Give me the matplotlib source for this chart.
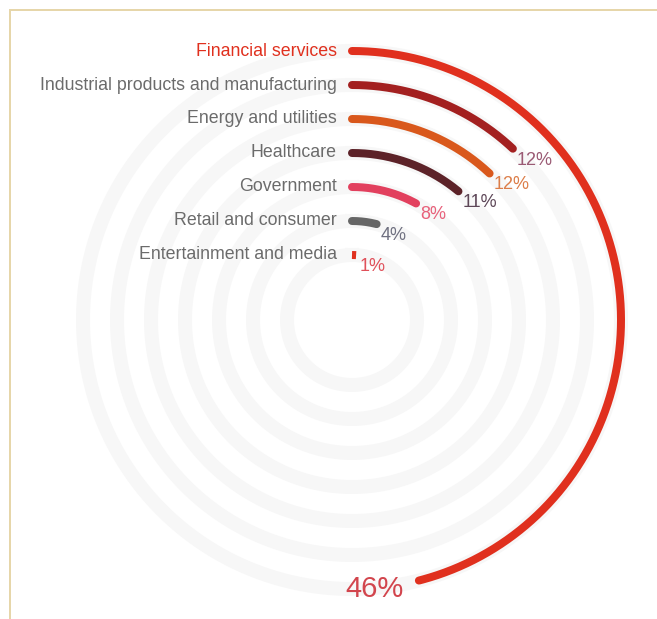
import matplotlib
import numpy as np

matplotlib.use("Agg")
import matplotlib.pyplot as plt
from matplotlib.lines import Line2D

plt.rcParams["font.family"] = ["Liberation Sans", "DejaVu Sans"]

# share of respondents by sector
sectors = [
    "Financial services",
    "Industrial products and manufacturing",
    "Energy and utilities",
    "Healthcare",
    "Government",
    "Retail and consumer",
    "Entertainment and media",
]
shares = [46, 12, 12, 11, 8, 4, 1]

arc_colors = ["#e0301e", "#a32020", "#d9581c", "#5c2228", "#e2405e", "#666666", "#e0301e"]
pct_colors = ["#d2454d", "#9a5a74", "#dc7d48", "#5d4657", "#e8607a", "#6f7080", "#e0505a"]
name_colors = ["#e0301e"] + ["#6b6b6b"] * 6

W, H = 657, 619
CX, CY = 352, 320      # ring centre in pixels (from top-left)
RMAX = 300             # radius of the polar axes in pixels
R_OUTER, STEP = 269, 34

fig = plt.figure(figsize=(W / 100, H / 100), dpi=100)
fig.patch.set_facecolor("white")

ax = fig.add_axes(
    [(CX - RMAX) / W, (H - CY - RMAX) / H, 2 * RMAX / W, 2 * RMAX / H],
    projection="polar",
)
ax.set_theta_zero_location("N")
ax.set_theta_direction(-1)
ax.set_rlim(0, RMAX)
ax.set_axis_off()

px = 0.72  # points per pixel at 100 dpi
full = np.linspace(0, 2 * np.pi, 400)

for i, (name, val) in enumerate(zip(sectors, shares)):
    r = R_OUTER - STEP * i
    # faint background track
    ax.plot(full, np.full_like(full, r), color="#f7f7f7", lw=14 * px, zorder=1)

    end = val / 100 * 2 * np.pi
    theta = np.linspace(0, end, 200)
    cap = "round" if end * r > 8 else "butt"
    ax.plot(theta, np.full_like(theta, r), color=arc_colors[i], lw=8 * px,
            solid_capstyle=cap, zorder=3)

    ax.annotate(name, xy=(0, r), xytext=(-15, 0), textcoords="offset pixels",
                ha="right", va="center", fontsize=12.8, color=name_colors[i])

    if i == 0:
        ax.annotate(f"{val}%", xy=(end, r), xytext=(-15, -8),
                    textcoords="offset pixels", ha="right", va="center",
                    fontsize=21, color=pct_colors[i])
    else:
        ax.annotate(f"{val}%", xy=(end, r), xytext=(4, -3),
                    textcoords="offset pixels", ha="left", va="top",
                    fontsize=13, color=pct_colors[i])

# thin frame along the top and left edges
frame = "#e6d6aa"
fig.add_artist(Line2D([10 / W, 1], [1 - 10 / H, 1 - 10 / H], color=frame, lw=2 * px))
fig.add_artist(Line2D([10 / W, 10 / W], [0, 1 - 10 / H], color=frame, lw=2 * px))

fig.savefig("out.png", dpi=100, facecolor="white")
